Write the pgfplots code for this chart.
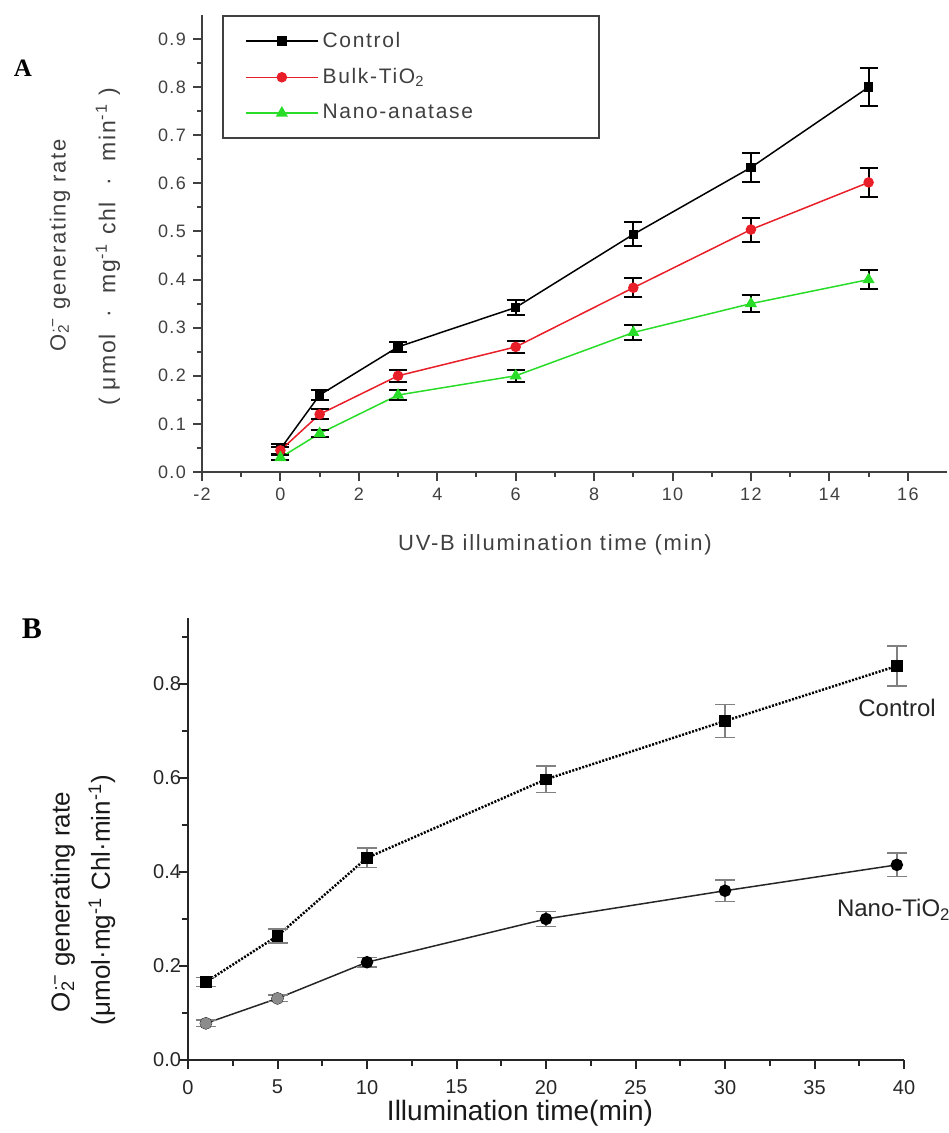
\documentclass[border=0pt]{standalone}
\usepackage{pgfplots}
\pgfplotsset{compat=1.18}
\usepackage{fontspec}
\setmainfont{Liberation Sans}
\newfontfamily\spaced[LetterSpace=8]{Liberation Sans}
\newfontfamily\timesf{Liberation Serif}
\newlength\px
\setlength\px{0.5bp}
\definecolor{redA}{RGB}{232,30,40}
\definecolor{greenA}{RGB}{40,220,40}
\definecolor{txtA}{RGB}{64,64,64}

\begin{document}
\begin{tikzpicture}
\useasboundingbox (0,0) rectangle (948\px,-1133\px);

% ---------------- panel A ----------------
\begin{axis}[
  at={(202\px,-472\px)}, anchor=south west,
  scale only axis, width=745\px, height=457\px,
  xmin=-2, xmax=17, ymin=0, ymax=0.95,
  axis lines=left,
  axis line style={-, line width=2\px, txtA},
  tick align=outside,
  major tick length=9\px, minor tick length=5\px,
  every tick/.style={line width=2\px, txtA},
  xtick={-2,0,2,4,6,8,10,12,14,16},
  xticklabels={-2,0,2,4,6,8,10,12,14,16},
  minor xtick={-1,1,3,5,7,9,11,13,15},
  ytick={0,0.1,0.2,0.3,0.4,0.5,0.6,0.7,0.8,0.9},
  yticklabels={0.0,0.1,0.2,0.3,0.4,0.5,0.6,0.7,0.8,0.9},
  minor ytick={0.05,0.15,0.25,0.35,0.45,0.55,0.65,0.75,0.85},
  ticklabel style={font=\spaced\fontsize{9bp}{11bp}\selectfont, text=txtA},
  clip=false,
  legend cell align=left,
  legend style={at={(0.027,1)}, anchor=north west, draw=txtA, line width=2\px,
    font=\spaced\fontsize{10.5bp}{12bp}\selectfont, text=txtA, row sep=10\px,
    inner xsep=22\px, inner ysep=12\px},
  legend image code/.code={
    \draw[mark repeat=2,mark phase=2] plot coordinates {(0pt,0pt) (36\px,0pt) (72\px,0pt)};
  },
]
\addplot[black, line width=1.5\px, mark=square*, mark size=4\px,
  error bars/.cd, y dir=both, y explicit,
  error bar style={line width=2\px, black},
  error mark options={rotate=90, mark size=9\px, line width=2\px, black}]
  table[x=x, y=y, y error=e] {
x y e
0 0.048 0.010
1 0.160 0.010
3 0.260 0.010
6 0.342 0.015
9 0.494 0.025
12 0.633 0.030
15 0.800 0.040
};
\addlegendentry{\makebox[250\px][l]{Control}}
\addplot[redA, line width=1.5\px, mark=*, mark size=4.5\px,
  error bars/.cd, y dir=both, y explicit,
  error bar style={line width=2\px, black},
  error mark options={rotate=90, mark size=9\px, line width=2\px, black}]
  table[x=x, y=y, y error=e] {
x y e
0 0.045 0.008
1 0.120 0.010
3 0.200 0.012
6 0.260 0.012
9 0.383 0.020
12 0.504 0.025
15 0.602 0.030
};
\addlegendentry{Bulk-TiO\textsubscript{2}}
\addplot[greenA, line width=1.5\px, mark=triangle*, mark size=5.5\px,
  error bars/.cd, y dir=both, y explicit,
  error bar style={line width=2\px, black},
  error mark options={rotate=90, mark size=9\px, line width=2\px, black}]
  table[x=x, y=y, y error=e] {
x y e
0 0.030 0.006
1 0.080 0.008
3 0.160 0.010
6 0.200 0.012
9 0.290 0.015
12 0.350 0.018
15 0.400 0.020
};
\addlegendentry{Nano-anatase}
\end{axis}

\node[font=\timesf\bfseries\fontsize{12.5bp}{14bp}\selectfont] at (23\px,-68\px) {A};
\node[rotate=90, font=\spaced\fontsize{11bp}{13bp}\selectfont, text=txtA] at (60\px,-245\px)
  {O\rlap{\textsubscript{2}}\textsuperscript{·−} generating rate};
\node[rotate=90, font=\spaced\fontsize{11.5bp}{13bp}\selectfont, text=txtA] at (108\px,-247\px)
  {( μmol \ · \ mg\textsuperscript{-1} chl \ · \ min\textsuperscript{-1} )};
\node[font=\spaced\fontsize{11bp}{13bp}\selectfont, text=txtA] at (555\px,-545\px)
  {UV-B illumination time (min)};

% ---------------- panel B ----------------
\begin{axis}[
  at={(188\px,-1060\px)}, anchor=south west,
  scale only axis, width=716\px, height=442\px,
  xmin=0, xmax=40, ymin=0, ymax=0.94,
  axis lines=left,
  axis line style={-, line width=2.5\px, black!85},
  tick align=outside,
  major tick length=9\px, minor tick length=6\px,
  every tick/.style={line width=2\px, black!85},
  xtick={0,5,10,15,20,25,30,35,40},
  xticklabels={0,5,10,15,20,25,30,35,40},
  minor xtick={2.5,7.5,12.5,17.5,22.5,27.5,32.5,37.5},
  ytick={0,0.2,0.4,0.6,0.8},
  yticklabels={0.0,0.2,0.4,0.6,0.8},
  minor ytick={0.1,0.3,0.5,0.7,0.9},
  ticklabel style={font=\fontsize{10bp}{12bp}\selectfont, text=black!85},
  yticklabel style={xshift=9\px},
  xticklabel style={yshift=-4\px},
  clip=false,
]
\addplot[black, line width=2.5\px, dash pattern=on 2\px off 1.5\px,
  mark=square*, mark size=4.5\px, mark options={solid},
  error bars/.cd, y dir=both, y explicit,
  error bar style={solid, line width=1.5\px, black!50},
  error mark options={solid, rotate=90, mark size=10\px, line width=1.5\px, black!50}]
  table[x=x, y=y, y error=e] {
x y e
1 0.166 0.010
5 0.264 0.015
10 0.430 0.021
20 0.597 0.028
30 0.721 0.035
39.6 0.838 0.043
};
\addplot[black!85, line width=1.5\px, mark=*, mark size=5.5\px,
  mark options={fill=black, draw=black},
  error bars/.cd, y dir=both, y explicit,
  error bar style={line width=1.5\px, black!50},
  error mark options={rotate=90, mark size=10\px, line width=1.5\px, black!50}]
  table[x=x, y=y, y error=e] {
x y e
1 0.078 0.007
5 0.131 0.007
10 0.208 0.010
20 0.300 0.016
30 0.360 0.023
39.6 0.415 0.025
};
\addplot[only marks, mark=*, mark size=5.5\px, draw=black!45, fill=black!45]
  table[x=x, y=y] {
x y
1 0.078
5 0.131
};
\end{axis}

\node[font=\timesf\bfseries\fontsize{15bp}{17bp}\selectfont] at (32\px,-629\px) {B};
\node[font=\fontsize{12bp}{14bp}\selectfont, text=black!85] at (897\px,-708\px) {Control};
\node[font=\fontsize{12bp}{14bp}\selectfont, text=black!85, anchor=west] at (830\px,-910\px)
  {Nano-TiO\textsubscript{2}};
\node[rotate=90, font=\fontsize{13bp}{15bp}\selectfont, text=black!90] at (63\px,-902\px)
  {O\rlap{\textsubscript{2}}\textsuperscript{·−} generating rate};
\node[rotate=90, font=\fontsize{13bp}{15bp}\selectfont, text=black!90] at (102\px,-900\px)
  {(μmol·mg\textsuperscript{-1} Chl·min\textsuperscript{-1})};
\node[font=\fontsize{14bp}{16bp}\selectfont, text=black!90] at (520\px,-1113\px)
  {Illumination time(min)};
\end{tikzpicture}
\end{document}
